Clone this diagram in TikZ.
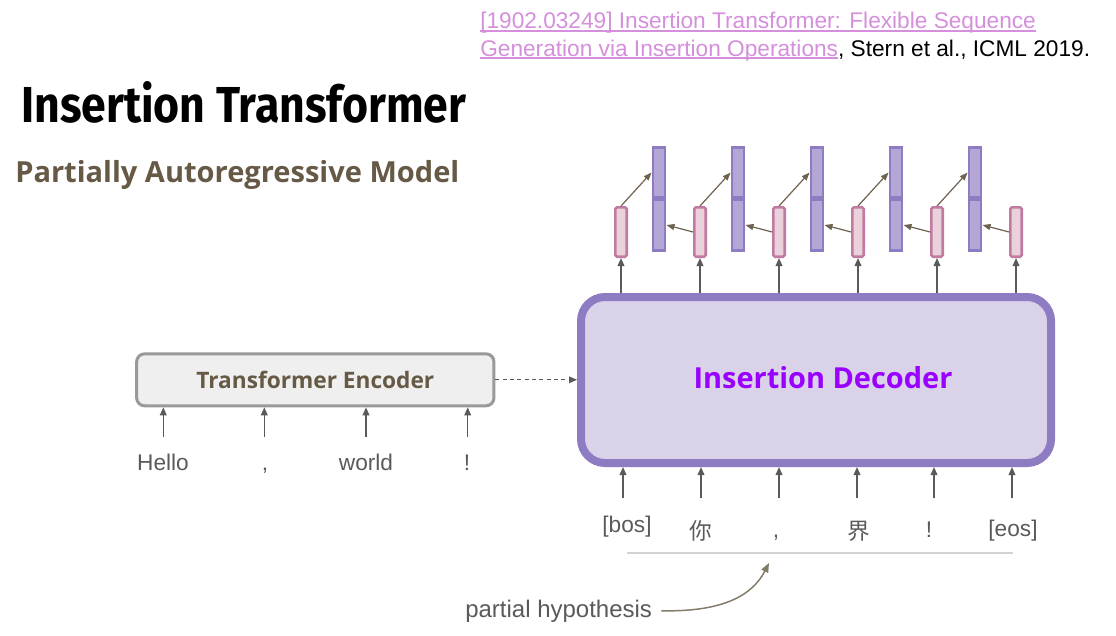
\documentclass[tikz,border=0pt]{standalone}
\usepackage{fontspec}
\setmainfont{Liberation Sans}
\newfontfamily\opensans{Open Sans}
\newfontfamily\firasans{Fira Sans}
\newfontfamily\cjk{Noto Sans CJK SC}
\usetikzlibrary{arrows.meta}
\definecolor{linkc}{RGB}{213,143,220}
\definecolor{brownt}{RGB}{102,89,69}
\definecolor{labc}{RGB}{90,90,90}
\definecolor{arrc}{RGB}{90,90,90}
\definecolor{brownc}{RGB}{110,98,80}
\definecolor{pinkd}{RGB}{194,123,160}
\definecolor{pinkf}{RGB}{234,209,220}
\definecolor{purpd}{RGB}{142,124,195}
\definecolor{purpf}{RGB}{180,167,214}
\definecolor{decf}{RGB}{217,210,233}
\definecolor{decc}{RGB}{153,0,255}
\definecolor{encd}{RGB}{153,153,153}
\definecolor{encf}{RGB}{239,239,239}
\definecolor{hypc}{RGB}{210,210,210}
\newcommand\myul[1]{\setbox0\hbox{#1}\rlap{\rule[-1.9pt]{\wd0}{0.8pt}}\box0}
\begin{document}
\begin{tikzpicture}[x=0.75pt,y=-0.75pt,
  lab/.style={font=\fontsize{17}{20}\selectfont, text=labc, inner sep=0pt, anchor=base},
  cjklab/.style={lab, font=\cjk\fontsize{17}{20}\selectfont},
  garrow/.style={draw=arrc, line width=1.1pt, -{Triangle[length=6pt,width=5pt]}},
  barrow/.style={draw=brownc, line width=0.9pt, -{Triangle[length=6pt,width=4.5pt]}},
  pinkcell/.style={draw=pinkd, fill=pinkf, line width=1.9pt, rounded corners=1.2pt, minimum width=8.6pt, minimum height=37.1pt, inner sep=0pt},
  purpcell/.style={draw=purpd, fill=purpf, line width=2.2pt, minimum width=9pt, minimum height=37.6pt, inner sep=0pt},
  encbox/.style={draw=encd, fill=encf, line width=2.25pt, rounded corners=6pt, minimum width=268pt, minimum height=39pt, inner sep=0pt, text=brownt, font=\opensans\bfseries\fontsize{17}{20}\selectfont},
  decbox/.style={draw=purpd, fill=decf, line width=6pt, rounded corners=18pt, minimum width=352.5pt, minimum height=124.5pt, inner sep=0pt},
  dectext/.style={text=decc, font=\opensans\bfseries\fontsize{21.7}{26}\selectfont, inner sep=0pt},
  reftext/.style={anchor=base west, inner sep=0pt, font=\fontsize{17}{20}\selectfont},
]
\useasboundingbox (0,0) rectangle (1116,635);
\fill[white] (0,0) rectangle (1116,635);

% reference
\node[reftext, text=linkc] (ref1) at (480,29) {\myul{[1902.03249] Insertion Transformer: Flexible Sequence}};
\node[reftext] (ref2) at (480,56) {\textcolor{linkc}{\myul{Generation via Insertion Operations}}, Stern et al., ICML 2019.};

% titles
\node[anchor=base west, inner sep=0pt] (title) at (21,122) {\resizebox{333.75pt}{30.75pt}{\firasans\bfseries Insertion Transformer}};
\node[anchor=base west, inner sep=0pt, text=brownt] (sub) at (15,182) {\resizebox{333pt}{!}{\opensans\bfseries Partially Autoregressive Model}};

% encoder
\node[encbox] (enc) at (315.3,379.8) {Transformer Encoder};
\node[lab] (hello) at (163,470) {Hello};
\node[lab] (comma1) at (265,470) {,};
\node[lab] (world) at (366,470) {world};
\node[lab] (excl1) at (467,470) {!};
\foreach \x [count=\k] in {163.3,264.3,366,467.7} {
  \coordinate (ein\k) at (\x,437);
  \draw[garrow] (ein\k) -- (ein\k |- enc.south);
}

% decoder
\node[decbox] (dec) at (816,380) {};
\node[dectext] (dectxt) at (823,378) {Insertion Decoder};
\draw[garrow, dash pattern=on 3pt off 2.5pt, line width=0.8pt] (enc.east) -- (enc.east -| dec.west);

\node[lab] (bos) at (627,532) {[bos]};
\node[cjklab] (ni) at (701,539) {你};
\node[lab] (comma2) at (776,537) {,};
\node[cjklab] (jie) at (859,539) {界};
\node[lab] (excl2) at (929,537) {!};
\node[lab] (eos) at (1013,536) {[eos]};
\foreach \x [count=\k] in {623,701,779,857,934,1012} {
  \coordinate (din\k) at (\x,498);
  \draw[garrow] (din\k) -- (din\k |- dec.south);
}
\draw[hypc, line width=1.5pt] (627,553) -- (1013,553);

\node[anchor=base west, inner xsep=6.75pt, inner ysep=0pt, font=\fontsize{18}{22}\selectfont, text=labc] (ph) at (456,617) {partial hypothesis};
\coordinate (phend) at (769,563);
\draw[draw=brownc!85!white, line width=1.1pt, -{Triangle[length=7pt,width=5.5pt]}] (ph.east) .. controls (722,612) and (752,596) .. (phend);

% output cells
\foreach \i in {0,...,5} \node[pinkcell] (p\i) at ({621+79*\i},232) {};
\foreach \i in {0,...,4} {
  \node[purpcell] (qb\i) at ({659+79*\i},225) {};
  \node[purpcell] (qt\i) at ({659+79*\i},172.5) {};
}
\foreach \i in {0,...,5} \draw[garrow] (p\i |- dec.north) -- (p\i.south);
\foreach \i [evaluate=\i as \j using int(\i+1)] in {0,...,4} {
  \draw[barrow] (p\i.north) -- (qt\i.west);
  \draw[barrow] (p\j.west) -- (qb\i.east);
}
\end{tikzpicture}
\end{document}
